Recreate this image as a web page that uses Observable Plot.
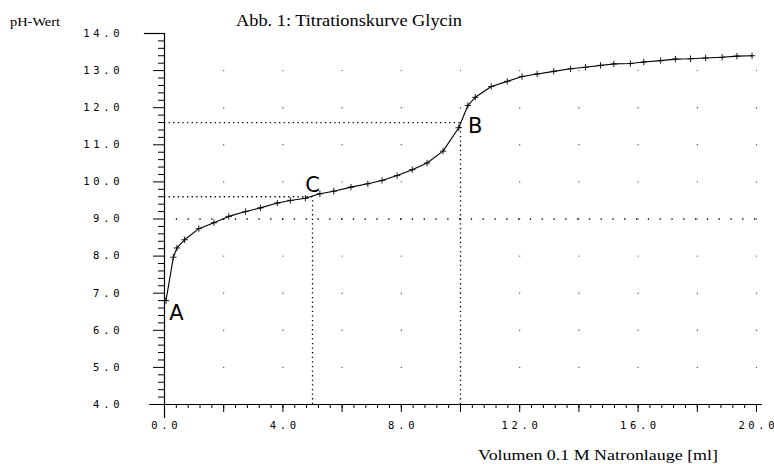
<!DOCTYPE html>
<html><head><meta charset="utf-8">
<script src="https://cdn.jsdelivr.net/npm/d3@7"></script>
<script src="https://cdn.jsdelivr.net/npm/@observablehq/plot@0.6"></script>
<style>body{margin:0;background:#fff}</style>
</head><body><div id="chart"></div>
<script>
const volume = [0.05, 0.3, 0.42, 0.68, 1.16, 1.67, 2.17, 2.74, 3.24, 3.81, 4.25, 4.76, 5.25, 5.72, 6.3, 6.87, 7.35, 7.86, 8.37, 8.87, 9.41, 9.94, 10.25, 10.5, 11.04, 11.58, 12.08, 12.59, 13.15, 13.72, 14.22, 14.73, 15.18, 15.74, 16.19, 16.76, 17.26, 17.77, 18.28, 18.84, 19.34, 19.85];
const phValues = [6.8, 7.97, 8.22, 8.44, 8.74, 8.90, 9.07, 9.20, 9.30, 9.43, 9.50, 9.56, 9.68, 9.75, 9.86, 9.95, 10.04, 10.17, 10.33, 10.51, 10.83, 11.46, 12.06, 12.28, 12.57, 12.71, 12.84, 12.91, 12.98, 13.05, 13.09, 13.14, 13.18, 13.19, 13.23, 13.27, 13.31, 13.32, 13.34, 13.36, 13.39, 13.40];
const xTickLabels = [0, 4, 8, 12, 16, 20];
const yTickLabels = [4, 5, 6, 7, 8, 9, 10, 11, 12, 13, 14];
const guideX = [10, 5];
const guideY = [11.6, 9.6];
const pointLabels = ["A", "B", "C"];
const pointLabelX = [0.4, 10.5, 5.0];
const pointLabelY = [6.45, 11.5, 9.9];
const titleText = "Abb. 1: Titrationskurve Glycin";
const yAxisTitle = "pH-Wert";
const xAxisTitle = "Volumen 0.1 M Natronlauge [ml]";

const data = volume.map((v, i) => ({v, ph: phValues[i]}));
const guides = guideX.map((x, i) => ({x, y: guideY[i]}));
const labels = pointLabels.map((t, i) => ({t, x: pointLabelX[i], y: pointLabelY[i]}));
const gridPts = [];
for (let gx = 2; gx <= 20; gx += 2) for (let gy = 5; gy <= 13; gy++) gridPts.push({x: gx, y: gy});
const yMinor = d3.range(4, 14.001, 0.2).map(d => +d.toFixed(1)).filter(d => Math.abs(d - Math.round(d)) > 0.01);
const xMinor = d3.range(0, 20.001, 0.4).map(d => +d.toFixed(1));
const xMajor = d3.range(0, 20.001, 2);
const fmt = d3.format(".1f");
const mono = "DejaVu Sans Mono";

const plot = Plot.plot({
  width: 774, height: 464,
  marginLeft: 164, marginRight: 18, marginTop: 33, marginBottom: 60,
  x: {domain: [0, 20]},
  y: {domain: [4, 14]},
  style: {background: "#fff", color: "#000"},
  marks: [
    Plot.dot(gridPts, {x: "x", y: "y", r: 0.7, fill: "#555", stroke: null}),
    Plot.ruleY([9], {x1: 0, x2: 20, stroke: "#000", strokeWidth: 1.3, strokeDasharray: "1.3,10.5"}),
    Plot.ruleY(guides, {y: "y", x1: 0, x2: "x", stroke: "#000", strokeWidth: 1.3, strokeDasharray: "1.3,3.3"}),
    Plot.ruleX(guides, {x: "x", y1: 4, y2: "y", stroke: "#000", strokeWidth: 1.3, strokeDasharray: "1.3,3.3"}),
    Plot.ruleX([0], {y1: 3.62, y2: 14, stroke: "#000", strokeWidth: 1.2}),
    Plot.ruleY([4], {x1: -0.5, x2: 20.2, stroke: "#000", strokeWidth: 1.2}),
    Plot.ruleY([14], {x1: -0.68, x2: 0, stroke: "#000", strokeWidth: 1.2}),
    Plot.axisY({ticks: yTickLabels, tickSize: 11, tickPadding: 34, tickFormat: fmt, label: null, fontSize: 10.5, fontFamily: mono}),
    Plot.axisY({ticks: yMinor, tickSize: 6, tickFormat: () => "", label: null}),
    Plot.axisX({ticks: xMajor, tickSize: 8, tickFormat: () => "", label: null}),
    Plot.axisX({ticks: xMinor, tickSize: 4, tickFormat: () => "", label: null}),
    Plot.axisX({ticks: xTickLabels, tickSize: 0, tickPadding: 17, tickFormat: fmt, label: null, fontSize: 10.5, fontFamily: mono}),
    Plot.line(data, {x: "v", y: "ph", stroke: "#000", strokeWidth: 1.1}),
    Plot.dot(data, {x: "v", y: "ph", symbol: "plus", r: 2.2, stroke: "#000", strokeWidth: 0.9}),
    Plot.text(labels, {x: "x", y: "y", text: "t", fontSize: 21, fontFamily: "DejaVu Sans", textAnchor: "middle", fill: "#000"})
  ]
});
document.getElementById("chart").appendChild(plot);
const svg = d3.select(plot);
svg.selectAll('g[aria-label="y-axis tick label"] text, g[aria-label="x-axis tick label"] text').each(function() {
  const t = d3.select(this);
  const n = t.text().length;
  t.attr("textLength", n * 9.8 - 3).attr("lengthAdjust", "spacing");
});
svg.append("text").attr("x", 236).attr("y", 26).attr("text-anchor", "start").attr("font-family", "Liberation Serif").attr("font-size", 16)
  .attr("textLength", 226).attr("lengthAdjust", "spacingAndGlyphs").text(titleText);
svg.append("text").attr("x", 10).attr("y", 26).attr("text-anchor", "start").attr("font-family", "Liberation Serif").attr("font-size", 12)
  .attr("textLength", 50).attr("lengthAdjust", "spacingAndGlyphs").text(yAxisTitle);
svg.append("text").attr("x", 478).attr("y", 460).attr("text-anchor", "start").attr("font-family", "Liberation Serif").attr("font-size", 15)
  .attr("textLength", 240).attr("lengthAdjust", "spacingAndGlyphs").text(xAxisTitle);
</script></body></html>
